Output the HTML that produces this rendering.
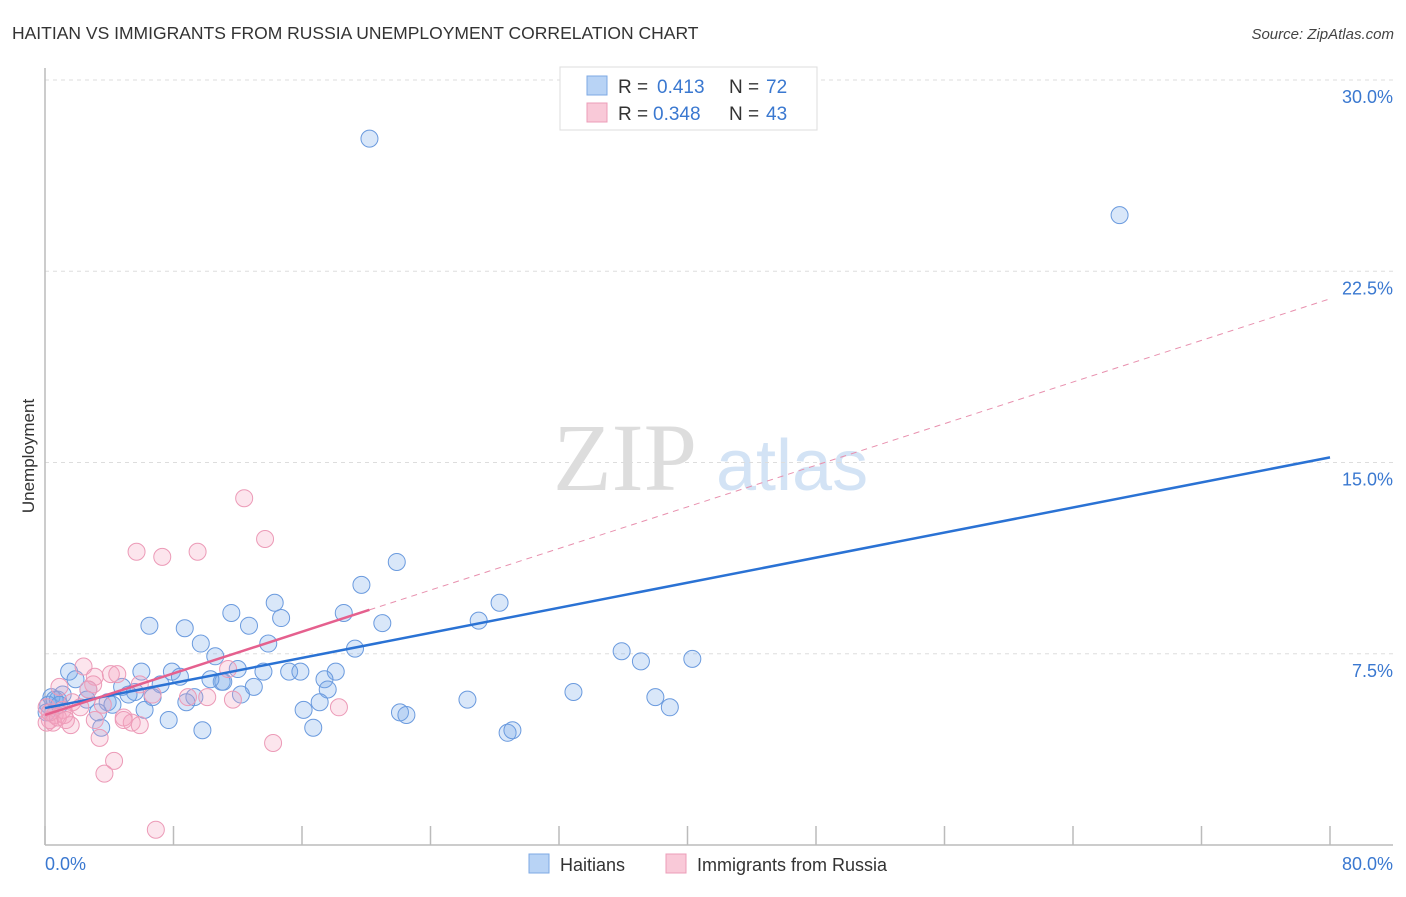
<!DOCTYPE html>
<html><head><meta charset="utf-8"><style>
body{margin:0;background:#fff;font-family:"Liberation Sans",sans-serif;}
</style></head><body>
<svg id="c" width="1406" height="892" xmlns="http://www.w3.org/2000/svg" font-family="Liberation Sans, sans-serif">
<text x="12" y="39" font-size="17.5" fill="#333">HAITIAN VS IMMIGRANTS FROM RUSSIA UNEMPLOYMENT CORRELATION CHART</text>
<text x="1394" y="39" font-size="15" fill="#444" text-anchor="end" font-style="italic">Source: ZipAtlas.com</text>
<text x="553" y="490" font-size="96" fill="#ddd" font-family="Liberation Serif, serif">ZIP</text>
<text x="716" y="490" font-size="72" fill="#d3e3f5">atlas</text>
<text transform="translate(34,456) rotate(-90)" font-size="17" fill="#333" text-anchor="middle">Unemployment</text>
<g id="grid"></g><g id="marks"></g><g id="lines"></g>
<g>
<rect x="560" y="67" width="257" height="63" fill="#fff" stroke="#ddd"/>
<rect x="587" y="76" width="20" height="19" fill="#b8d3f5" stroke="#7ea9e4"/>
<rect x="587" y="103" width="20" height="19" fill="#f9c9d8" stroke="#ec9db8"/>
<text x="618" y="93" font-size="19" fill="#333">R =</text>
<text x="657" y="93" font-size="19" fill="#3a78d0">0.413</text>
<text x="729" y="93" font-size="19" fill="#333">N =</text>
<text x="766" y="93" font-size="19" fill="#3a78d0">72</text>
<text x="618" y="120" font-size="19" fill="#333">R =</text>
<text x="653" y="120" font-size="19" fill="#3a78d0">0.348</text>
<text x="729" y="120" font-size="19" fill="#333">N =</text>
<text x="766" y="120" font-size="19" fill="#3a78d0">43</text>
</g>
<g>
<rect x="529" y="854" width="20" height="19" fill="#b8d3f5" stroke="#7ea9e4"/>
<text x="560" y="871" font-size="18" fill="#333">Haitians</text>
<rect x="666" y="854" width="20" height="19" fill="#f9c9d8" stroke="#ec9db8"/>
<text x="697" y="871" font-size="18" fill="#333">Immigrants from Russia</text>
</g>
</svg>
<script>
const yTicks=[7.5,15,22.5,30];
const yTickLabels=["7.5%","15.0%","22.5%","30.0%"];
const xTicks=[0,8,16,24,32,40,48,56,64,72,80];
const xEndLabels=["0.0%","80.0%"];
const blueX=[20.2,66.9,21.9,19.7,28.3,14.3,14.7,11.6,6.5,8.7,12.7,21.0,18.6,9.7,13.9,19.3,27.0,35.9,37.1,40.3,10.6,1.5,6.0,7.9,12.0,13.6,15.2,15.9,18.1,17.4,1.9,2.7,4.8,5.6,7.2,8.4,11.0,13.0,11.1,10.3,17.6,12.2,0.4,0.8,1.1,2.6,3.9,5.2,6.7,9.3,8.8,17.1,16.1,6.2,4.2,3.3,26.3,32.9,38.0,38.9,22.1,22.5,7.7,9.8,3.5,16.7,28.8,29.1,0.2,0.6,0.1,0.9];
const blueY=[27.7,24.7,11.1,10.2,9.5,9.5,8.9,9.1,8.6,8.5,8.6,8.7,9.1,7.9,7.9,7.7,8.8,7.6,7.2,7.3,7.4,6.8,6.8,6.8,6.9,6.8,6.8,6.8,6.8,6.5,6.5,6.1,6.2,6.0,6.3,6.6,6.4,6.2,6.4,6.5,6.1,5.9,5.8,5.7,5.9,5.7,5.6,5.9,5.8,5.8,5.6,5.6,5.3,5.3,5.5,5.2,5.7,6.0,5.8,5.4,5.2,5.1,4.9,4.5,4.6,4.6,4.4,4.5,5.5,5.7,5.2,5.5];
const pinkX=[12.4,13.7,5.7,7.3,9.5,2.4,4.1,4.5,3.1,3.0,11.4,5.9,2.7,0.9,8.9,10.1,6.7,11.7,18.3,1.7,2.2,3.6,4.9,5.4,5.9,4.9,3.1,1.6,0.6,1.1,0.3,0.1,0.5,0.8,1.2,0.1,3.4,14.2,4.3,3.7,6.9,0.3,1.3];
const pinkY=[13.6,12.0,11.5,11.3,11.5,7.0,6.7,6.7,6.6,6.3,6.9,6.3,6.1,6.2,5.8,5.8,5.9,5.7,5.4,5.6,5.4,5.5,5.0,4.8,4.7,4.9,4.9,4.7,5.1,5.3,4.9,4.8,4.8,5.0,5.1,5.4,4.2,4.0,3.3,2.8,0.6,5.2,4.9];
const blueFit=[5.37,0.1229];
const pinkFit=[5.1,0.204];
const pinkSolidEnd=20.2;
const NS="http://www.w3.org/2000/svg";
const X=v=>45+v/80*1285, Y=v=>845-v*25.5;
function mk(t,a,p){const e=document.createElementNS(NS,t);for(const k in a)e.setAttribute(k,a[k]);document.getElementById(p).appendChild(e);return e;}
yTicks.forEach((t,i)=>{
 const g=mk('line',{x1:45,x2:1393,y1:Y(t),y2:Y(t),stroke:'#ddd','stroke-dasharray':'4,4'},'grid');
 
 
 const l=mk('text',{x:1393,y:Y(t)+23,'font-size':18,fill:'#3a78d0','text-anchor':'end'},'grid');
 l.textContent=yTickLabels[i];
 
 
});
const ax=mk('line',{x1:45,x2:1393,y1:845,y2:845,stroke:'#bbb','stroke-width':1.5},'grid');


const ay=mk('line',{x1:45,x2:45,y1:68,y2:845,stroke:'#bbb','stroke-width':1.5},'grid');


xTicks.forEach(t=>{
 const k=mk('line',{x1:X(t),x2:X(t),y1:826,y2:845,stroke:'#bbb','stroke-width':1.5},'grid');
 
 
});
[[0,'start',45],[80,'end',1393]].forEach((d,i)=>{
 const l=mk('text',{x:d[2],y:870,'font-size':18,fill:'#3a78d0','text-anchor':d[1]},'grid');
 l.textContent=xEndLabels[i];
 
 
});
function pts(xs,ys,fill,stroke,name){xs.forEach((x,i)=>{
 const c=mk('circle',{cx:X(x),cy:Y(ys[i]),r:8.5,fill:fill,stroke:stroke,'stroke-width':1},'marks');
 
 
});}
pts(blueX,blueY,'rgba(120,170,235,0.28)','#6a9ade','haitian-point');
pts(pinkX,pinkY,'rgba(245,160,190,0.28)','#ec9ab7','russia-point');
const bl=mk('line',{x1:X(0),y1:Y(blueFit[0]),x2:X(80),y2:Y(blueFit[0]+blueFit[1]*80),stroke:'#2a72d4','stroke-width':2.5},'lines');


const pl=mk('line',{x1:X(0),y1:Y(pinkFit[0]),x2:X(pinkSolidEnd),y2:Y(pinkFit[0]+pinkFit[1]*pinkSolidEnd),stroke:'#e5608e','stroke-width':2.5},'lines');


const pd=mk('line',{x1:X(pinkSolidEnd),y1:Y(pinkFit[0]+pinkFit[1]*pinkSolidEnd),x2:X(80),y2:Y(pinkFit[0]+pinkFit[1]*80),stroke:'#e890ae','stroke-width':1,'stroke-dasharray':'6,5'},'lines');


</script>
</body></html>
